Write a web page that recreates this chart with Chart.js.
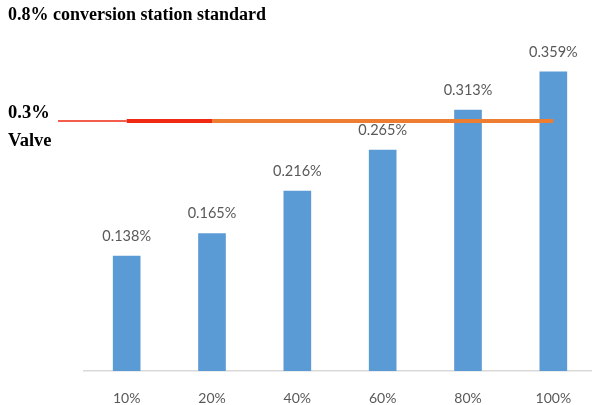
<!DOCTYPE html>
<html>
<head>
<meta charset="utf-8">
<script src="https://cdn.jsdelivr.net/npm/chart.js@4"></script>
<style>
  html, body { margin: 0; background: #fff; overflow: hidden; }
  #wrap { width: 596px; height: 405px; position: relative; }
</style>
</head>
<body>
<div id="wrap"><canvas id="myChart"></canvas></div>
<script>
// chart data
var categories = ['10%', '20%', '40%', '60%', '80%', '100%'];
var values = [0.138, 0.165, 0.216, 0.265, 0.313, 0.359];
var valveLine = [0.3, 0.3, 0.3, 0.3, 0.3, 0.3];
var valveTick = [0.3];
var valveLabel = ['0.3%', 'Valve'];
var titleText = '0.8% conversion station standard';

var BLUE = '#5b9bd5';
var ORANGE = '#ed7d31';
var RED = '#f02a12';
var GREY = '#595959';

// bar value labels above each bar
var barLabels = {
    id: 'barLabels',
    afterDatasetsDraw: function(chart) {
        var ctx = chart.ctx;
        var meta = chart.getDatasetMeta(1);
        ctx.save();
        ctx.font = '14.5px Lato';
        ctx.fillStyle = GREY;
        ctx.textAlign = 'center';
        ctx.textBaseline = 'alphabetic';
        meta.data.forEach(function(el, i) {
            ctx.fillText(values[i].toFixed(3) + '%', el.x, el.y - 15);
        });
        ctx.restore();
    }
};

// thin red lead line from the "Valve" label to the line start
var valveLead = {
    id: 'valveLead',
    beforeDatasetsDraw: function(chart) {
        var ctx = chart.ctx;
        var y = chart.scales.y.getPixelForValue(valveTick[0]);
        var x1 = chart.scales.x.getPixelForValue(0);
        ctx.save();
        ctx.strokeStyle = RED;
        ctx.lineWidth = 1.5;
        ctx.beginPath();
        ctx.moveTo(58, y);
        ctx.lineTo(x1, y);
        ctx.stroke();
        ctx.restore();
    }
};

new Chart(document.getElementById('myChart'), {
    data: {
        labels: categories,
        datasets: [{
            type: 'line',
            data: valveLine,
            order: 0,
            borderColor: ORANGE,
            borderWidth: 4,
            pointRadius: 0,
            segment: {
                borderColor: function(c) { return c.p0DataIndex === 0 ? RED : ORANGE; }
            }
        }, {
            type: 'bar',
            data: values,
            order: 1,
            backgroundColor: BLUE,
            barThickness: 27
        }]
    },
    options: {
        responsive: true,
        maintainAspectRatio: false,
        animation: false,
        layout: { padding: { left: 8, right: 0, top: 0, bottom: 0 } },
        plugins: {
            legend: { display: false },
            tooltip: { enabled: false },
            title: {
                display: true,
                text: titleText,
                align: 'start',
                color: '#000',
                font: { family: 'Liberation Serif', size: 18, weight: 'bold' },
                padding: { top: 5, bottom: 11 }
            }
        },
        scales: {
            x: {
                grid: { display: false },
                border: { color: '#d9d9d9', width: 1.5 },
                ticks: { color: GREY, font: { family: 'Lato', size: 14 }, padding: 11 },
                afterFit: function(s) { s.height = 34; }
            },
            y: {
                min: 0,
                max: 0.4,
                grid: { display: false },
                border: { display: false },
                afterBuildTicks: function(s) { s.ticks = valveTick.map(function(v) { return { value: v }; }); },
                afterFit: function(s) { s.width = 76; },
                ticks: {
                    crossAlign: 'far',
                    labelOffset: 6,
                    color: '#000',
                    font: { family: 'Liberation Serif', size: 18.5, weight: 'bold', lineHeight: 1.5 },
                    callback: function() { return valveLabel; }
                }
            }
        }
    },
    plugins: [barLabels, valveLead]
});
</script>
</body>
</html>
